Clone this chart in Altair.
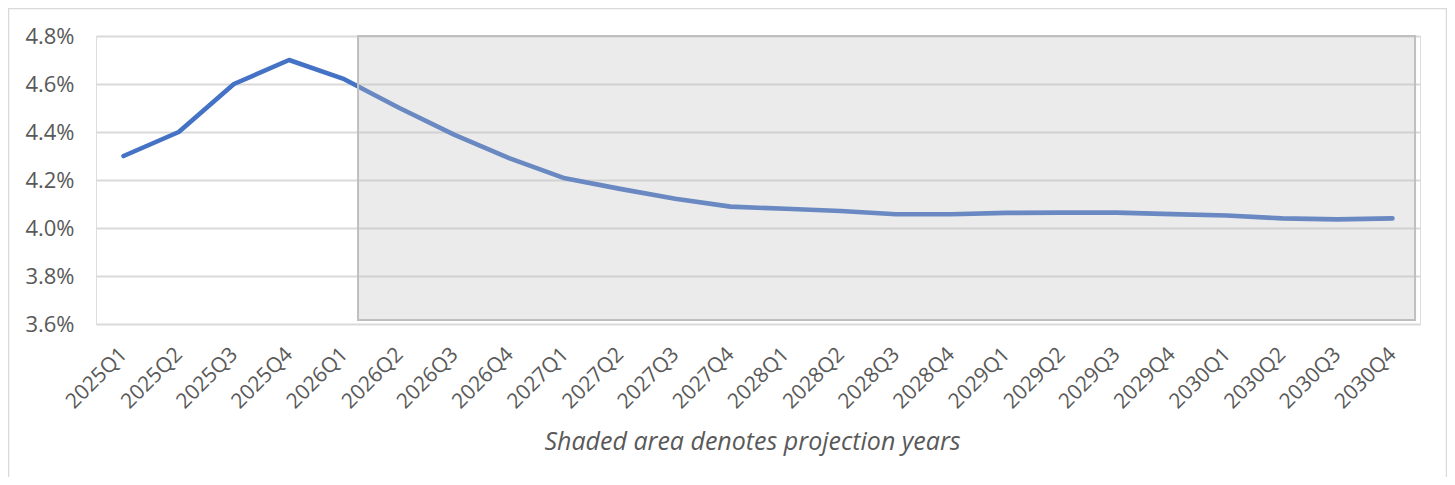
import json
import altair as alt
import pandas as pd

quarters = [
    "2025Q1", "2025Q2", "2025Q3", "2025Q4",
    "2026Q1", "2026Q2", "2026Q3", "2026Q4",
    "2027Q1", "2027Q2", "2027Q3", "2027Q4",
    "2028Q1", "2028Q2", "2028Q3", "2028Q4",
    "2029Q1", "2029Q2", "2029Q3", "2029Q4",
    "2030Q1", "2030Q2", "2030Q3", "2030Q4",
]
rate = [
    4.30, 4.40, 4.60, 4.70,
    4.62, 4.50, 4.388, 4.29,
    4.207, 4.163, 4.122, 4.089,
    4.080, 4.071, 4.057, 4.057,
    4.063, 4.064, 4.064, 4.058,
    4.052, 4.040, 4.036, 4.040,
]
y_ticks = [3.6, 3.8, 4.0, 4.2, 4.4, 4.6, 4.8]

# projection shading (in data units: quarter index and percent)
shade_start = [4.25]
shade_end = [23.41]
shade_low = [3.617]
shade_high = [4.8]

df = pd.DataFrame({"idx": list(range(len(quarters))), "q": quarters, "rate": rate})
shade = pd.DataFrame({"x1": shade_start, "x2": shade_end, "y1": shade_low, "y2": shade_high})

TXT = "#595959"
FONT = "Open Sans"
label_expr = json.dumps(quarters) + "[datum.value]"

xscale = alt.Scale(domain=[-0.5, len(quarters) - 0.5], nice=False, zero=False)
yscale = alt.Scale(domain=[3.6, 4.8], nice=False, zero=False)

frame = alt.Chart(pd.DataFrame({"a": [0]})).mark_rect(
    fillOpacity=0, stroke="#d9d9d9", strokeWidth=1.5
).encode(
    x=alt.value(-87.5), x2=alt.value(1350.5), y=alt.value(-27.5), y2=alt.value(700)
)

line = alt.Chart(df).mark_line(
    color="#4472C4", strokeWidth=4.6, strokeCap="round", strokeJoin="round"
).encode(
    x=alt.X(
        "idx:Q",
        scale=xscale,
        axis=alt.Axis(
            values=list(range(len(quarters))),
            labelExpr=label_expr,
            grid=False, ticks=False, domain=False,
            labelAngle=-45, labelAlign="right", labelBaseline="middle",
            labelFont=FONT, labelFontSize=21, labelColor=TXT, labelPadding=27,
            labelOverlap=False,
            title="Shaded area denotes projection years",
            titleFont=FONT, titleFontSize=25, titleFontStyle="italic",
            titleFontWeight="normal", titleColor=TXT,
            titleX=656, titleY=117, titleAlign="center", titleBaseline="middle",
        ),
    ),
    y=alt.Y(
        "rate:Q",
        scale=yscale,
        axis=alt.Axis(
            values=y_ticks,
            labelExpr="format(datum.value, '.1f') + '%'",
            grid=True, gridColor="#d9d9d9", gridWidth=2,
            ticks=False, domain=False,
            labelFont=FONT, labelFontSize=22, labelColor=TXT, labelPadding=22,
            title=None,
        ),
    ),
)

shade_rect = alt.Chart(shade).mark_rect(
    fill="#bebebe", fillOpacity=0.31, stroke="#bfbfbf", strokeWidth=2
).encode(
    x=alt.X("x1:Q", scale=xscale),
    x2="x2:Q",
    y=alt.Y("y1:Q", scale=yscale),
    y2="y2:Q",
)

chart = alt.layer(frame, line, shade_rect).properties(
    width=1324,
    height=288,
    padding={"left": 88, "top": 28, "right": 27, "bottom": 153},
    autosize=alt.AutoSizeParams(type="none"),
).configure_view(stroke=None).configure(background="white")

chart.save("out.html", embed_options={"renderer": "svg", "actions": False})
